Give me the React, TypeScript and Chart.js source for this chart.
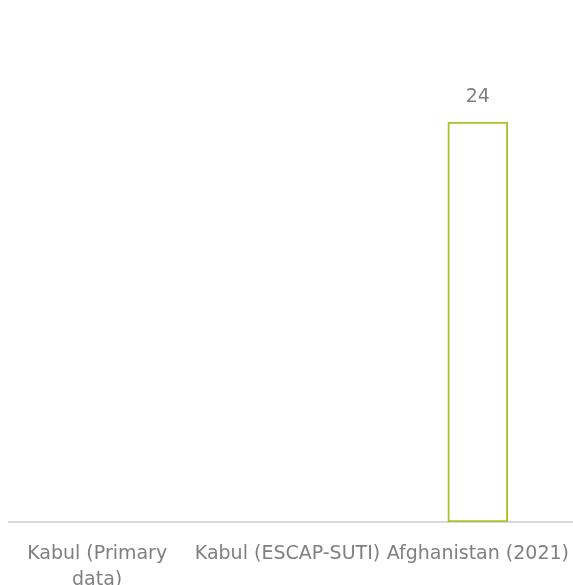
import React, { useEffect, useRef } from "react";
import { Chart, registerables } from "chart.js";

Chart.register(...registerables);

const categories: (string | string[])[] = [["Kabul (Primary", "data)"], "Kabul (ESCAP-SUTI)", "Afghanistan (2021)"];
const values: (number | null)[] = [null, null, 24];
const yMin = 0;
const yMax = 30;

const FONT = "DejaVu Sans, Verdana, sans-serif";

const labelPlugin = {
  id: "valueLabels",
  beforeDatasetsDraw(chart: any) {
    const ctx = chart.ctx;
    const y = chart.chartArea.bottom;
    ctx.save();
    ctx.strokeStyle = "#D9D9D9";
    ctx.lineWidth = 2;
    ctx.beginPath();
    ctx.moveTo(8, y);
    ctx.lineTo(573, y);
    ctx.stroke();
    ctx.restore();
  },
  afterDatasetsDraw(chart: any) {
    const ctx = chart.ctx;
    const meta = chart.getDatasetMeta(0);
    ctx.save();
    ctx.font = "19px " + FONT;
    ctx.fillStyle = "#7F7F7F";
    ctx.textAlign = "center";
    ctx.textBaseline = "middle";
    meta.data.forEach((el: any, i: number) => {
      const v = values[i];
      if (v == null) return;
      ctx.fillText(String(v), el.x, el.y - 25);
    });
    ctx.restore();
  },
};

export default function App() {
  const ref = useRef<HTMLCanvasElement>(null);
  useEffect(() => {
    if (!ref.current) return;
    const chart = new Chart(ref.current, {
      type: "bar",
      data: {
        labels: categories,
        datasets: [
          {
            data: values,
            backgroundColor: "#FFFFFF",
            borderColor: "#A5C52B",
            borderWidth: 2,
            borderSkipped: false,
            barThickness: 60,
          },
        ],
      },
      options: {
        animation: false,
        responsive: false,
        maintainAspectRatio: false,
        layout: { padding: { left: 2, right: 0, top: 22, bottom: 0 } },
        plugins: { legend: { display: false }, tooltip: { enabled: false } },
        scales: {
          x: {
            grid: { display: false },
            border: { display: false },
            afterFit: (scale: any) => {
              scale.height = 63;
              scale.paddingLeft = 0;
              scale.paddingRight = 0;
            },
            ticks: {
              color: "#7F7F7F",
              font: { family: FONT, size: 19, lineHeight: 1.37 },
              maxRotation: 0,
              minRotation: 0,
              autoSkip: false,
              padding: 11,
            },
          },
          y: {
            display: false,
            min: yMin,
            max: yMax,
          },
        },
      },
      plugins: [labelPlugin],
    });
    return () => chart.destroy();
  }, []);
  return (
    <div style={{ position: "fixed", left: 0, top: 0, width: 573, height: 585, background: "#fff" }}>
      <canvas ref={ref} width={573} height={585} />
    </div>
  );
}
